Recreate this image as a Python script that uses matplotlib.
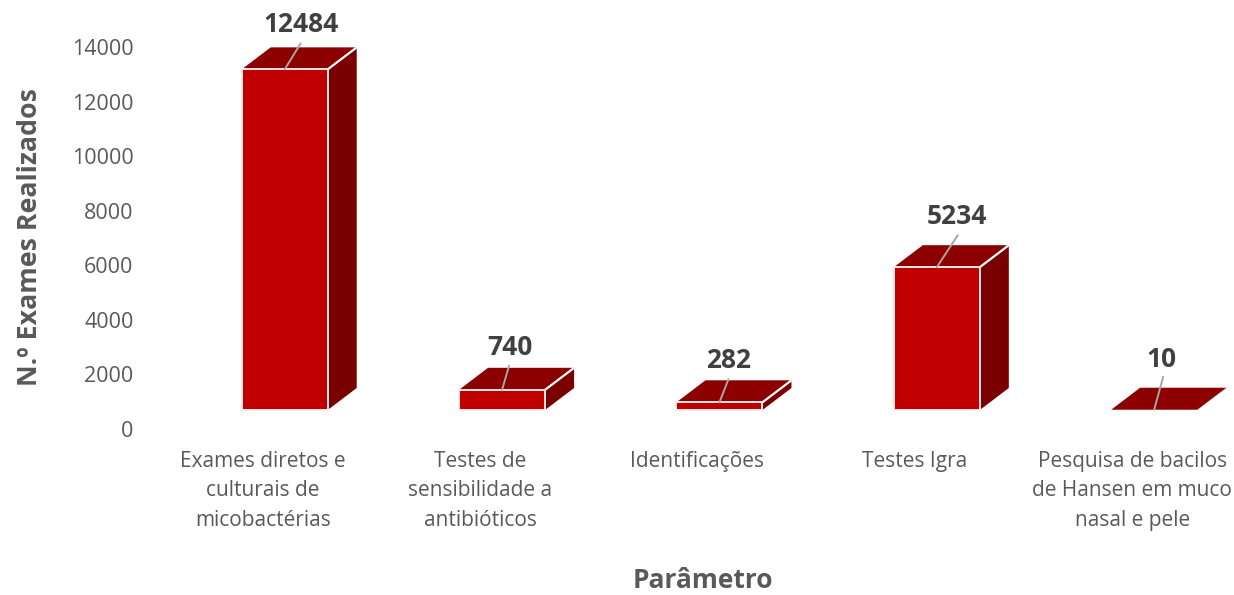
import matplotlib
matplotlib.use('Agg')
import matplotlib.pyplot as plt
from matplotlib.patches import Polygon

plt.rcParams['font.family'] = ['Open Sans', 'DejaVu Sans']

categorias = ['Exames diretos e\nculturais de\nmicobactérias',
              'Testes de\nsensibilidade a\nantibióticos',
              'Identificações',
              'Testes Igra',
              'Pesquisa de bacilos\nde Hansen em muco\nnasal e pele']
valores = [12484, 740, 282, 5234, 10]
yticks = [0, 2000, 4000, 6000, 8000, 10000, 12000, 14000]

# escala em pixels do original
W, H = 1234, 595
px_x = 217.3            # pixels por categoria
px_y = 382 / 14000      # pixels por exame

fig = plt.figure(figsize=(W / 100, H / 100), dpi=100)
ax = fig.add_axes([154 / W, (H - 429) / H, (W - 154) / W, 382 / H])
ax.set_xlim(-0.5, (W - 263) / px_x)
ax.set_ylim(0, 14000)

# "3D" falso: base da barra acima do zero, deslocada da categoria
base = 19 / px_y
desloc = 22 / px_x
larg = 86 / px_x
dx = 29 / px_x
dy = 22 / px_y

for i, v in enumerate(valores):
    x0 = i + desloc - larg / 2
    x1 = x0 + larg
    topo = base + v
    ax.add_patch(Polygon([(x1, base), (x1 + dx, base + dy), (x1 + dx, topo + dy), (x1, topo)],
                         facecolor='#7A0000', edgecolor='none', clip_on=False, zorder=2))
    ax.add_patch(Polygon([(x0, topo), (x1, topo), (x1 + dx, topo + dy), (x0 + dx, topo + dy)],
                         facecolor='#8C0000', edgecolor='none', clip_on=False, zorder=2))
    if v > 50:
        ax.plot([x1, x1 + dx], [topo, topo + dy], color='white', lw=1.6, zorder=3,
                clip_on=False, solid_capstyle='butt')
        ax.bar(i + desloc, v, larg, bottom=base, color='#C00000', edgecolor='#FBE9E9', lw=1.4,
               zorder=3, clip_on=False)

# deslocamentos dos rotulos de dados e linhas de chamada, em pixels
ponta = [(16, 26), (7, 24), (9, 23), (21, 32), (9, 33)]
texto = [(16, 45), (8, 42), (9, 42), (20, 51), (7, 50)]

for i, v in enumerate(valores):
    xc = i + desloc
    topo = base + v
    ax.annotate('', xy=(xc, topo), xytext=(ponta[i][0] * 0.72, ponta[i][1] * 0.72),
                xycoords='data', textcoords='offset points',
                arrowprops=dict(arrowstyle='-', color='#A6A6A6', lw=1.4, shrinkA=0, shrinkB=0),
                zorder=4, annotation_clip=False)
    ax.annotate(str(v), xy=(xc, topo), xytext=(texto[i][0] * 0.72, texto[i][1] * 0.72),
                textcoords='offset points', ha='center', va='center',
                fontsize=19, fontweight='bold', color='#404040', annotation_clip=False)

ax.set_xticks(range(len(categorias)))
ax.set_xticklabels(categorias, fontsize=15, color='#595959', linespacing=1.53, va='top')
ax.set_yticks(yticks)
ax.set_yticklabels([str(t) for t in yticks], fontsize=15.5, color='#595959')
ax.tick_params(length=0)
ax.tick_params(axis='x', pad=15.7)
ax.tick_params(axis='y', pad=14.7)
for s in ax.spines.values():
    s.set_visible(False)

fig.text(703 / W, 1 - 581 / H, 'Parâmetro', ha='center', va='center',
         fontsize=19, fontweight='bold', color='#595959')
fig.text(30 / W, 1 - 237 / H, 'N.º Exames Realizados', rotation=90, ha='center', va='center',
         fontsize=19.3, fontweight='bold', color='#595959')

fig.savefig('out.png', dpi=100)
